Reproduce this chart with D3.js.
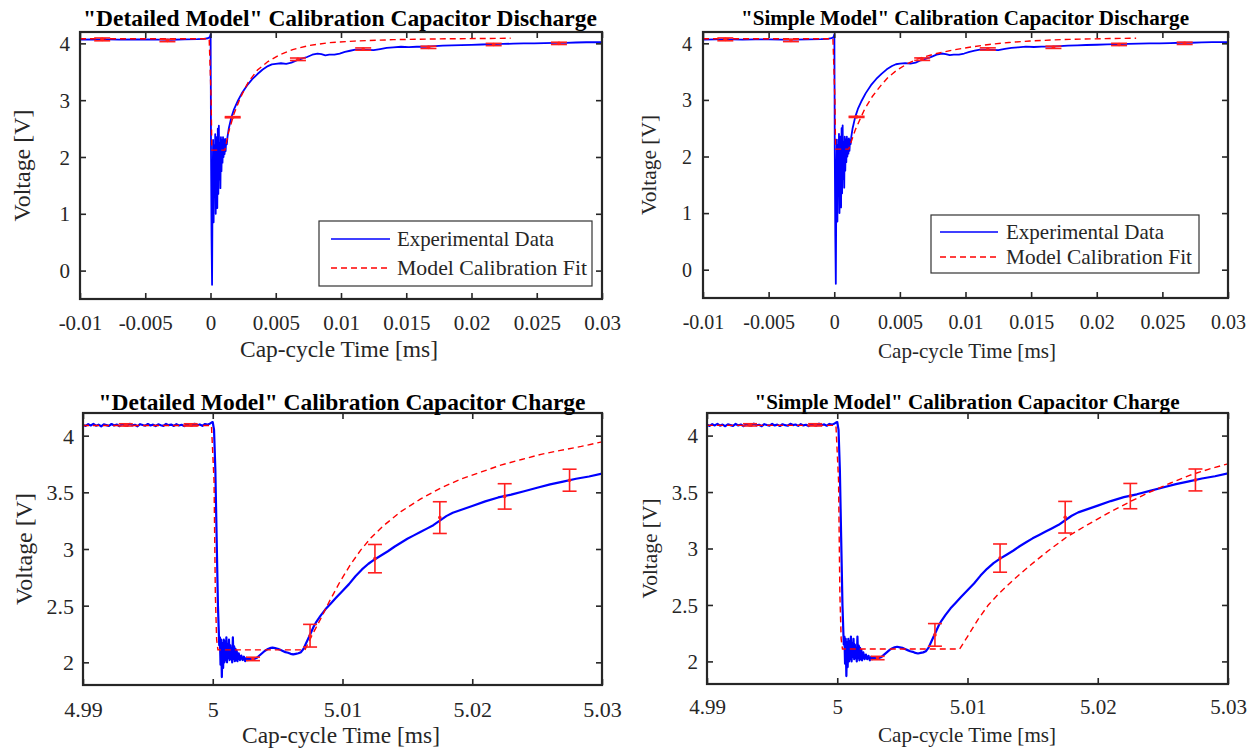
<!DOCTYPE html>
<html>
<head>
<meta charset="utf-8">
<script src="https://cdn.jsdelivr.net/npm/d3@7"></script>
<style>
  body { margin: 0; background: #fff; }
  svg { display: block; }
  .tick text { font-family: "Liberation Serif", "Times New Roman", serif; }
</style>
</head>
<body>
<svg id="fig" width="1257" height="751"></svg>
<script>
// ---------- measured traces: [time (ms), voltage (V)] ----------
const dischargeData = [
  [-0.01,4.066],[-0.009,4.068],[-0.008,4.07],[-0.007,4.067],[-0.006,4.071],[-0.005,4.068],
  [-0.004,4.066],[-0.003,4.064],[-0.002,4.07],[-0.001,4.074],[-0.0005,4.08],[-0.0002,4.09],
  [-0.00005,4.11],[0.00001,4.16],
  [0.00004,2.1],[0.00008,0.6],[0.00012,-0.25],[0.00016,1.5],[0.0002,2.3],[0.00024,0.85],
  [0.00028,2.2],[0.00032,1.3],[0.00036,2.4],[0.0004,1.0],[0.00044,2.0],[0.00048,2.35],
  [0.00052,1.1],[0.00056,2.5],[0.0006,1.35],[0.00064,2.55],[0.00068,1.6],[0.00072,2.25],
  [0.00076,1.45],[0.0008,2.35],[0.00084,1.75],[0.00088,2.3],[0.00092,1.9],[0.00096,2.35],
  [0.001,2.0],[0.00104,2.3],[0.00108,2.05],[0.00112,2.32],[0.00116,2.1],[0.0012,2.28],
  [0.00125,2.22],
  [0.0013,2.35],[0.0014,2.5],[0.0016,2.7],[0.0018,2.84],[0.0021,2.99],[0.0024,3.12],
  [0.0028,3.26],[0.0032,3.37],[0.0036,3.46],[0.004,3.54],[0.0044,3.6],[0.0047,3.63],
  [0.005,3.64],[0.0054,3.65],[0.0058,3.64],[0.0062,3.66],[0.0066,3.7],[0.007,3.73],
  [0.0074,3.76],[0.0078,3.8],[0.0082,3.82],[0.0085,3.81],[0.0088,3.79],[0.0091,3.8],
  [0.0095,3.8],[0.0099,3.82],[0.0103,3.85],[0.0107,3.87],[0.0111,3.89],[0.0116,3.89],
  [0.012,3.885],[0.0125,3.88],[0.013,3.9],[0.0135,3.92],[0.014,3.93],[0.0146,3.94],
  [0.0152,3.935],[0.0158,3.94],[0.0165,3.94],[0.0172,3.95],[0.0178,3.96],[0.0185,3.965],
  [0.0192,3.97],[0.02,3.975],[0.0208,3.98],[0.0216,3.985],[0.0224,3.99],[0.0232,3.995],
  [0.024,4.0],[0.0248,4.0],[0.0256,4.005],[0.0264,4.01],[0.0272,4.01],[0.028,4.015],
  [0.0288,4.02],[0.0296,4.02],[0.03,4.02]
];

const chargeData = [
  [4.99,4.095],[4.9902,4.086],[4.9904,4.101],[4.9906,4.09],[4.9908,4.104],[4.991,4.088],
  [4.9912,4.097],[4.9914,4.083],[4.9916,4.1],[4.9918,4.093],[4.992,4.086],[4.9922,4.103],
  [4.9924,4.09],[4.9926,4.098],[4.9928,4.084],[4.993,4.1],[4.9932,4.092],[4.9934,4.087],
  [4.9936,4.105],[4.9938,4.091],[4.994,4.096],[4.9942,4.083],[4.9944,4.101],[4.9946,4.094],
  [4.9948,4.088],[4.995,4.103],[4.9952,4.09],[4.9954,4.097],[4.9956,4.085],[4.9958,4.1],
  [4.996,4.092],[4.9962,4.087],[4.9964,4.104],[4.9966,4.093],[4.9968,4.098],[4.997,4.086],
  [4.9972,4.101],[4.9974,4.09],[4.9976,4.096],[4.9978,4.084],[4.998,4.102],[4.9982,4.094],
  [4.9984,4.089],[4.9986,4.105],[4.9988,4.092],[4.999,4.099],[4.9992,4.087],[4.9994,4.103],
  [4.9996,4.097],[4.9998,4.108],[4.9999,4.115],[5.0,4.12],
  [5.0001,4.05],[5.0002,3.7],[5.0003,3.1],[5.0004,2.5],[5.0005,2.15],
  [5.00055,2.22],[5.0006,1.98],[5.00065,2.2],[5.0007,1.87],[5.00075,2.17],[5.0008,1.95],
  [5.00085,2.2],[5.0009,2.0],[5.00095,2.18],[5.001,2.02],[5.00105,2.22],[5.0011,2.0],
  [5.00115,2.16],[5.0012,2.04],[5.00125,2.2],[5.0013,2.02],[5.00135,2.15],[5.0014,2.03],
  [5.00145,2.12],[5.0015,2.0],[5.00155,2.22],[5.0016,2.03],[5.00165,2.14],[5.0017,2.01],
  [5.00175,2.12],[5.0018,2.02],[5.00185,2.1],[5.0019,2.01],[5.002,2.08],[5.0021,2.02],
  [5.0022,2.06],[5.0023,2.02],[5.0024,2.05],[5.0025,2.01],[5.0026,2.04],[5.0027,2.02],
  [5.0028,2.035],[5.003,2.025],[5.0032,2.03],[5.0034,2.04],[5.0036,2.06],[5.0038,2.08],
  [5.004,2.1],[5.0042,2.115],[5.0044,2.125],[5.0046,2.13],[5.0048,2.125],[5.005,2.12],
  [5.0052,2.11],[5.0054,2.1],[5.0056,2.09],[5.0058,2.085],[5.006,2.075],[5.0062,2.07],
  [5.0064,2.075],[5.0066,2.08],[5.0068,2.09],[5.007,2.12],[5.0072,2.17],[5.0074,2.22],
  [5.0076,2.27],[5.0078,2.32],[5.008,2.36],[5.0083,2.41],[5.0087,2.47],[5.0091,2.52],
  [5.0095,2.57],[5.01,2.63],[5.0105,2.69],[5.011,2.76],[5.0115,2.82],[5.012,2.87],
  [5.0125,2.91],[5.013,2.945],[5.0135,2.98],[5.014,3.02],[5.0145,3.055],[5.015,3.09],
  [5.0155,3.12],[5.016,3.15],[5.0165,3.18],[5.017,3.21],[5.0175,3.25],[5.018,3.29],
  [5.0185,3.32],[5.019,3.34],[5.0195,3.36],[5.02,3.38],[5.021,3.42],[5.022,3.455],
  [5.023,3.48],[5.024,3.51],[5.025,3.54],[5.026,3.57],[5.027,3.595],[5.028,3.62],
  [5.029,3.64],[5.03,3.665]
];

// ---------- model calibration fits ----------
const detailedDischargeFit = [
  [-0.01,4.08],[-0.0001,4.08],[0.00005,3.0],[0.0001,2.12],[0.0011,2.12],[0.0014,2.45],
  [0.0018,2.76],[0.0023,3.05],[0.0029,3.32],[0.0036,3.53],[0.0044,3.68],[0.0053,3.8],
  [0.0063,3.89],[0.0075,3.96],[0.009,4.01],[0.011,4.04],[0.014,4.065],[0.018,4.08],[0.023,4.09]
];
const simpleDischargeFit = [
  [-0.01,4.08],[-0.0001,4.08],[0.00005,3.0],[0.0001,2.13],[0.0011,2.13],[0.0016,2.47],
  [0.0023,2.83],[0.0029,3.06],[0.0035,3.24],[0.0041,3.4],[0.0048,3.53],[0.0055,3.63],
  [0.0063,3.72],[0.007,3.77],[0.0078,3.82],[0.009,3.88],[0.0103,3.93],[0.0118,3.98],
  [0.0133,4.015],[0.0149,4.04],[0.0165,4.058],[0.0179,4.07],[0.021,4.085],[0.023,4.09]
];
const detailedChargeFit = [
  [4.99,4.09],[4.9999,4.09],[5.0001,3.6],[5.0002,2.6],[5.0003,2.2],[5.0004,2.11],[5.0071,2.11],
  [5.0077,2.25],[5.0083,2.38],[5.009,2.54],[5.0098,2.71],[5.0106,2.86],[5.0114,2.99],
  [5.0122,3.1],[5.0131,3.2],[5.0145,3.33],[5.016,3.44],[5.0176,3.54],[5.0192,3.62],
  [5.0207,3.68],[5.0222,3.74],[5.0238,3.79],[5.0253,3.835],[5.0268,3.87],[5.0284,3.905],[5.03,3.945]
];
const simpleChargeFit = [
  [4.99,4.09],[4.9999,4.09],[5.0001,3.6],[5.0002,2.6],[5.0003,2.2],[5.0004,2.11],[5.0094,2.11],
  [5.01,2.22],[5.0108,2.37],[5.0116,2.5],[5.0124,2.6],[5.0136,2.73],[5.0148,2.85],
  [5.0162,2.98],[5.0176,3.1],[5.0192,3.21],[5.0209,3.32],[5.0224,3.41],[5.024,3.5],
  [5.0256,3.58],[5.0271,3.65],[5.0286,3.705],[5.03,3.75]
];

// ---------- calibration points with error bars ----------
const dischargeErrTime = [-0.0083, -0.0033, 0.0017, 0.0067, 0.0117, 0.0167, 0.0217, 0.0267];
const dischargeErrMean = [4.07, 4.05, 2.70, 3.72, 3.90, 3.93, 3.98, 4.00];
const dischargeErrHalf = [0.025, 0.02, 0.01, 0.022, 0.02, 0.02, 0.02, 0.02];

const chargeErrTime = [4.9933, 4.9983, 5.0031, 5.0075, 5.0125, 5.0175, 5.0225, 5.0275];
const chargeErrMean = [4.095, 4.095, 2.03, 2.235, 2.915, 3.277, 3.464, 3.607];
const chargeErrHalf = [0.01, 0.01, 0.015, 0.10, 0.125, 0.14, 0.112, 0.097];

// ---------- axis ticks ----------
const dischargeXTicks = [-0.01, -0.005, 0, 0.005, 0.01, 0.015, 0.02, 0.025, 0.03];
const dischargeXTickLabels = ["-0.01", "-0.005", "0", "0.005", "0.01", "0.015", "0.02", "0.025", "0.03"];
const dischargeYTicks = [0, 1, 2, 3, 4];
const dischargeYTickLabels = ["0", "1", "2", "3", "4"];
const chargeXTicks = [4.99, 5, 5.01, 5.02, 5.03];
const chargeXTickLabels = ["4.99", "5", "5.01", "5.02", "5.03"];
const chargeYTicks = [2, 2.5, 3, 3.5, 4];
const chargeYTickLabels = ["2", "2.5", "3", "3.5", "4"];

const legendLabels = ["Experimental Data", "Model Calibration Fit"];
const xAxisTitle = "Cap-cycle Time [ms]";
const yAxisTitle = "Voltage [V]";

// ---------- styling ----------
const SERIF = '"Liberation Serif", "Times New Roman", serif';
const INK = "#262626";
const BLUE = "#0000ff";
const RED = "#ff0000";

const svg = d3.select("#fig");

const panels = [
  {
    box: { left: 80, right: 602, top: 32, bottom: 299 },
    xDomain: [-0.01, 0.03], yDomain: [-0.5, 4.2],
    xTicks: dischargeXTicks, xTickLabels: dischargeXTickLabels,
    yTicks: dischargeYTicks, yTickLabels: dischargeYTickLabels,
    data: dischargeData, fit: detailedDischargeFit, dataWidth: 1.8,
    err: { t: dischargeErrTime, m: dischargeErrMean, h: dischargeErrHalf, cap: 8 },
    title: '"Detailed Model" Calibration Capacitor Discharge',
    titleStyle: { size: 23, len: 514, x: 340, y: 26 },
    tickFont: 21, xTickGap: 31, yTickGap: 10,
    xLabel: { size: 23, len: 198, x: 339, y: 357 },
    yLabel: { size: 23, len: 112, x: 30 },
    legend: { x0: 319, y0: 221, w: 273, h: 65, lineX0: 331, lineX1: 390, textX: 397, rows: [239, 268], size: 21, lens: [157, 190] }
  },
  {
    box: { left: 703, right: 1228, top: 32, bottom: 298 },
    xDomain: [-0.01, 0.03], yDomain: [-0.5, 4.2],
    xTicks: dischargeXTicks, xTickLabels: dischargeXTickLabels,
    yTicks: dischargeYTicks, yTickLabels: dischargeYTickLabels,
    data: dischargeData, fit: simpleDischargeFit, dataWidth: 1.8,
    err: { t: dischargeErrTime, m: dischargeErrMean, h: dischargeErrHalf, cap: 8 },
    title: '"Simple Model" Calibration Capacitor Discharge',
    titleStyle: { size: 20, len: 448, x: 965, y: 25 },
    tickFont: 20, xTickGap: 31, yTickGap: 11,
    xLabel: { size: 21, len: 178, x: 967, y: 358 },
    yLabel: { size: 21, len: 100, x: 656 },
    legend: { x0: 931, y0: 215, w: 268, h: 58, lineX0: 940, lineX1: 998, textX: 1006, rows: [232, 257], size: 21, lens: [158, 186] }
  },
  {
    box: { left: 83, right: 602, top: 413, bottom: 685 },
    xDomain: [4.99, 5.03], yDomain: [1.8, 4.2],
    xTicks: chargeXTicks, xTickLabels: chargeXTickLabels,
    yTicks: chargeYTicks, yTickLabels: chargeYTickLabels,
    data: chargeData, fit: detailedChargeFit, dataWidth: 2.2,
    err: { t: chargeErrTime, m: chargeErrMean, h: chargeErrHalf, cap: 7 },
    title: '"Detailed Model" Calibration Capacitor Charge',
    titleStyle: { size: 23, len: 487, x: 342, y: 410 },
    tickFont: 22, xTickGap: 32, yTickGap: 9,
    xLabel: { size: 23, len: 198, x: 341, y: 743 },
    yLabel: { size: 23, len: 112, x: 32 },
    legend: null
  },
  {
    box: { left: 707, right: 1228, top: 413, bottom: 684 },
    xDomain: [4.99, 5.03], yDomain: [1.8, 4.2],
    xTicks: chargeXTicks, xTickLabels: chargeXTickLabels,
    yTicks: chargeYTicks, yTickLabels: chargeYTickLabels,
    data: chargeData, fit: simpleChargeFit, dataWidth: 2.2,
    err: { t: chargeErrTime, m: chargeErrMean, h: chargeErrHalf, cap: 7 },
    title: '"Simple Model" Calibration Capacitor Charge',
    titleStyle: { size: 22, len: 425, x: 967, y: 409 },
    tickFont: 21, xTickGap: 30, yTickGap: 9,
    xLabel: { size: 21, len: 178, x: 967, y: 742 },
    yLabel: { size: 21, len: 100, x: 657 },
    legend: null
  }
];

function drawPanel(p, idx) {
  const b = p.box;
  const g = svg.append("g").attr("class", "panel");
  const x = d3.scaleLinear().domain(p.xDomain).range([b.left, b.right]);
  const y = d3.scaleLinear().domain(p.yDomain).range([b.bottom, b.top]);

  const clipId = "clip" + idx;
  svg.append("clipPath").attr("id", clipId)
    .append("rect").attr("x", b.left).attr("y", b.top)
    .attr("width", b.right - b.left).attr("height", b.bottom - b.top);

  // plot background
  g.append("rect").attr("x", b.left).attr("y", b.top)
    .attr("width", b.right - b.left).attr("height", b.bottom - b.top)
    .attr("fill", "#fff");

  const plot = g.append("g").attr("clip-path", `url(#${clipId})`);
  const line = d3.line().x(d => x(d[0])).y(d => y(d[1]));

  plot.append("path").datum(p.data).attr("d", line)
    .attr("fill", "none").attr("stroke", BLUE).attr("stroke-width", p.dataWidth)
    .attr("stroke-linejoin", "round");

  plot.append("path").datum(p.fit).attr("d", line)
    .attr("fill", "none").attr("stroke", RED).attr("stroke-width", 1.4)
    .attr("stroke-dasharray", "6,4");

  // error bars
  const e = p.err;
  const bars = plot.append("g").attr("stroke", "#ff1f1f").attr("stroke-width", 1.6);
  e.t.forEach((t, i) => {
    const cx = x(t), y0 = y(e.m[i] - e.h[i]), y1 = y(e.m[i] + e.h[i]);
    bars.append("line").attr("x1", cx).attr("x2", cx).attr("y1", y0).attr("y2", y1);
    bars.append("line").attr("x1", cx - e.cap).attr("x2", cx + e.cap).attr("y1", y0).attr("y2", y0);
    bars.append("line").attr("x1", cx - e.cap).attr("x2", cx + e.cap).attr("y1", y1).attr("y2", y1);
    bars.append("circle").attr("cx", cx).attr("cy", y(e.m[i])).attr("r", 1.8)
      .attr("fill", "#ff1f1f").attr("stroke", "none");
  });

  // axes: inward ticks on all four sides
  const axisStyle = sel => sel.attr("font-family", SERIF).attr("color", INK);
  const gb = g.append("g").attr("transform", `translate(0,${b.bottom})`)
    .call(d3.axisBottom(x).tickValues(p.xTicks).tickSize(-6)
      .tickFormat((d, i) => p.xTickLabels[i]))
    .call(axisStyle).attr("font-size", p.tickFont);
  gb.selectAll("text").attr("y", p.xTickGap).attr("dy", null);
  const gt = g.append("g").attr("transform", `translate(0,${b.top})`)
    .call(d3.axisTop(x).tickValues(p.xTicks).tickSize(-6).tickFormat(""))
    .call(axisStyle);
  const gl = g.append("g").attr("transform", `translate(${b.left},0)`)
    .call(d3.axisLeft(y).tickValues(p.yTicks).tickSize(-6)
      .tickFormat((d, i) => p.yTickLabels[i]))
    .call(axisStyle).attr("font-size", p.tickFont);
  gl.selectAll("text").attr("x", -p.yTickGap).attr("dy", "0.34em");
  const gr = g.append("g").attr("transform", `translate(${b.right},0)`)
    .call(d3.axisRight(y).tickValues(p.yTicks).tickSize(-6).tickFormat(""))
    .call(axisStyle);
  [gb, gt, gl, gr].forEach(a => {
    a.select(".domain").remove();
    a.selectAll(".tick line").attr("stroke-width", 1.6);
    a.selectAll(".tick text").attr("font-family", SERIF);
  });

  // frame
  g.append("rect").attr("x", b.left).attr("y", b.top)
    .attr("width", b.right - b.left).attr("height", b.bottom - b.top)
    .attr("fill", "none").attr("stroke", INK).attr("stroke-width", 2.2);

  // title
  const ts = p.titleStyle;
  g.append("text").text(p.title)
    .attr("x", ts.x).attr("y", ts.y).attr("text-anchor", "middle")
    .attr("font-family", SERIF).attr("font-weight", "bold").attr("font-size", ts.size)
    .attr("fill", "#000").attr("textLength", ts.len).attr("lengthAdjust", "spacingAndGlyphs");

  // axis titles
  g.append("text").text(xAxisTitle)
    .attr("x", p.xLabel.x).attr("y", p.xLabel.y).attr("text-anchor", "middle")
    .attr("font-family", SERIF).attr("font-size", p.xLabel.size).attr("fill", INK)
    .attr("textLength", p.xLabel.len).attr("lengthAdjust", "spacingAndGlyphs");
  const cy = (b.top + b.bottom) / 2;
  g.append("text").text(yAxisTitle)
    .attr("transform", `translate(${p.yLabel.x},${cy}) rotate(-90)`)
    .attr("text-anchor", "middle")
    .attr("font-family", SERIF).attr("font-size", p.yLabel.size).attr("fill", INK)
    .attr("textLength", p.yLabel.len).attr("lengthAdjust", "spacingAndGlyphs");

  // legend
  if (p.legend) {
    const L = p.legend;
    const lg = g.append("g");
    lg.append("rect").attr("x", L.x0).attr("y", L.y0).attr("width", L.w).attr("height", L.h)
      .attr("fill", "#fff").attr("stroke", "#333").attr("stroke-width", 1.2);
    const styles = [
      { stroke: BLUE, dash: null, w: 1.6 },
      { stroke: RED, dash: "6,4", w: 1.3 }
    ];
    legendLabels.forEach((lab, i) => {
      const ry = L.rows[i];
      lg.append("line").attr("x1", L.lineX0).attr("x2", L.lineX1).attr("y1", ry).attr("y2", ry)
        .attr("stroke", styles[i].stroke).attr("stroke-width", styles[i].w)
        .attr("stroke-dasharray", styles[i].dash);
      lg.append("text").text(lab).attr("x", L.textX).attr("y", ry).attr("dy", "0.34em")
        .attr("font-family", SERIF).attr("font-size", L.size).attr("fill", INK)
        .attr("textLength", L.lens[i]).attr("lengthAdjust", "spacingAndGlyphs");
    });
  }
}

panels.forEach(drawPanel);
</script>
</body>
</html>
